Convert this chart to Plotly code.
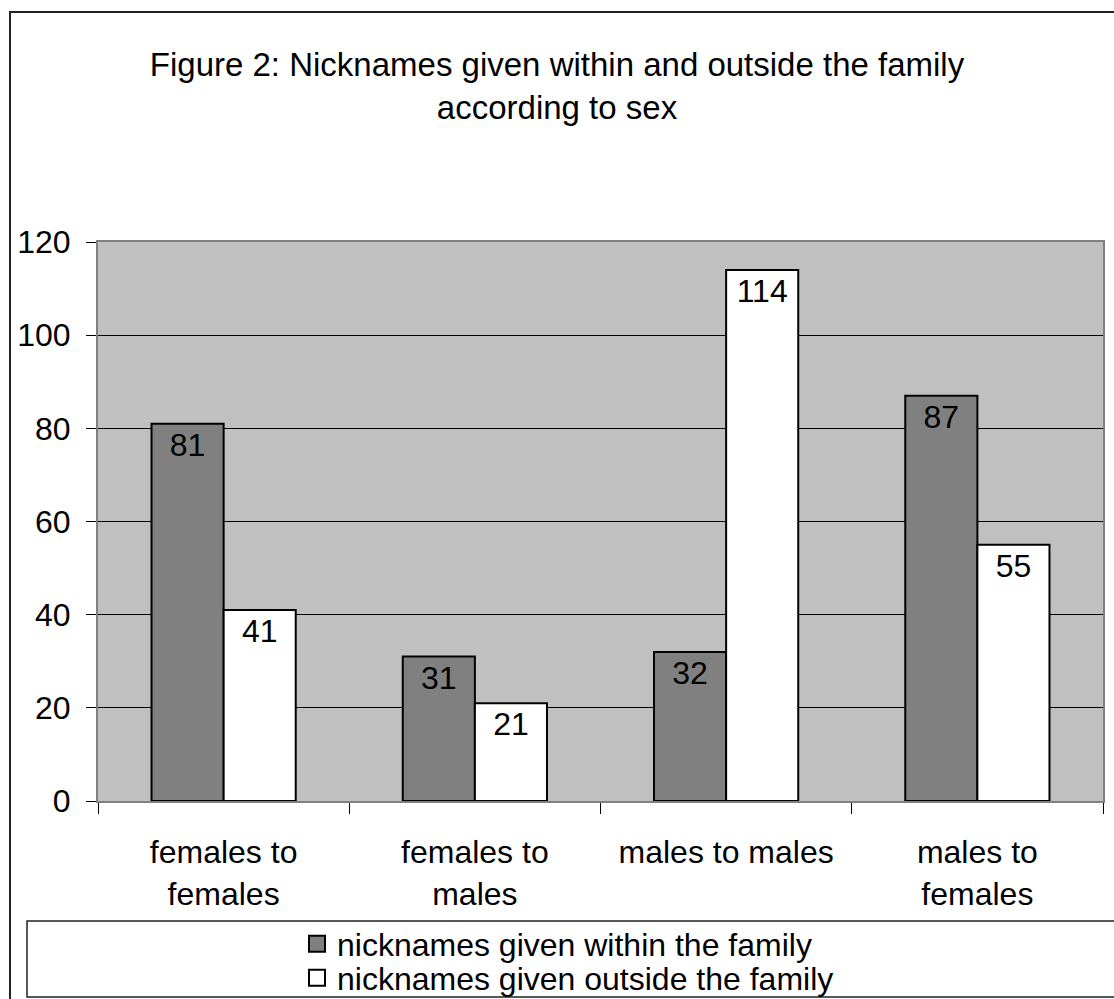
import plotly.graph_objects as go

categories = ["females to<br>females", "females to<br>males", "males to males", "males to<br>females"]
within_family = [81, 31, 32, 87]
outside_family = [41, 21, 114, 55]
series_names = ["nicknames given within the family", "nicknames given outside the family"]
y_ticks = [0, 20, 40, 60, 80, 100, 120]

FONT = "Liberation Sans, Arial, sans-serif"
W, H = 1114, 999
L, R, T, B = 98, 11, 242, 198
PW, PH = W - L - R, H - T - B


def px_x(px):
    return (px - L) / PW


def px_y(py):
    return (H - B - py) / PH


fig = go.Figure()
fig.add_trace(go.Bar(
    x=categories, y=within_family, name=series_names[0],
    marker=dict(color="#808080", line=dict(color="black", width=2)),
    text=within_family, textposition="inside", insidetextanchor="end",
    textfont=dict(size=32, color="black", family=FONT), showlegend=False,
    hoverinfo="x+y",
))
fig.add_trace(go.Bar(
    x=categories, y=outside_family, name=series_names[1],
    marker=dict(color="white", line=dict(color="black", width=2)),
    text=outside_family, textposition="inside", insidetextanchor="end",
    textfont=dict(size=32, color="black", family=FONT), showlegend=False,
    hoverinfo="x+y",
))
# legend entries (one legend per entry so the rows can sit close together)
for name, col, lg in zip(series_names, ["#808080", "white"], ["legend", "legend2"]):
    fig.add_trace(go.Scatter(
        x=[None], y=[None], mode="markers", name=name, legend=lg,
        marker=dict(symbol="square", size=16, color=col, line=dict(color="black", width=2)),
    ))

legend_common = dict(
    xanchor="left", yanchor="middle",
    bgcolor="rgba(0,0,0,0)", borderwidth=0,
    font=dict(size=32, family=FONT, color="black"),
    itemclick=False, itemdoubleclick=False,
)

fig.update_layout(
    width=W, height=H,
    margin=dict(l=L, r=R, t=T, b=B, pad=0, autoexpand=False),
    paper_bgcolor="white", plot_bgcolor="#C0C0C0",
    font=dict(family=FONT, size=32, color="black"),
    title=dict(
        text="Figure 2: Nicknames given within and outside the family<br>according to sex",
        x=0.5, xref="container", xanchor="center",
        y=1 - 76 / H, yref="container", yanchor="top",
        font=dict(size=33, family=FONT, color="black"),
    ),
    barmode="group", bargap=0.426, bargroupgap=0,
    uniformtext=dict(minsize=32, mode="show"),
    showlegend=True,
    legend=dict(x=px_x(297), y=px_y(944), **legend_common),
    legend2=dict(x=px_x(297), y=px_y(978), **legend_common),
    shapes=[
        dict(type="rect", xref="paper", yref="paper",
             x0=px_x(10), x1=px_x(1125), y0=px_y(1020), y1=px_y(12),
             line=dict(color="#222222", width=2), fillcolor="rgba(0,0,0,0)", layer="below"),
        dict(type="rect", xref="paper", yref="paper",
             x0=px_x(27), x1=px_x(1125), y0=px_y(997), y1=px_y(921),
             line=dict(color="#222222", width=1.5), fillcolor="rgba(0,0,0,0)", layer="below"),
    ],
)
fig.update_xaxes(
    type="category", tickson="boundaries", ticks="outside", ticklen=11, tickwidth=1,
    tickcolor="black", showline=True, linecolor="#808080", linewidth=2, mirror=True,
    showgrid=False, tickfont=dict(size=32, family=FONT, color="black"),
    automargin=False, ticklabelstandoff=22,
)
fig.update_yaxes(
    range=[0, 120], tickvals=y_ticks, ticks="outside", ticklen=10, tickwidth=1,
    tickcolor="black", showline=True, linecolor="#808080", linewidth=2, mirror=True,
    showgrid=True, gridcolor="black", gridwidth=1, zeroline=False,
    tickfont=dict(size=32, family=FONT, color="black"), ticklabelstandoff=9,
    automargin=False,
)

fig.write_html("out.html")
